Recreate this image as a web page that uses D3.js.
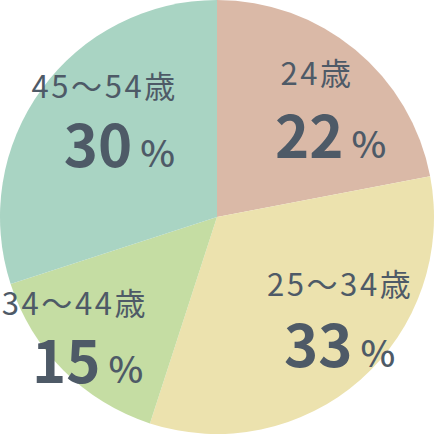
<!DOCTYPE html>
<html><head><meta charset="utf-8">
<script src="https://cdn.jsdelivr.net/npm/d3@7"></script>
<style>html,body{margin:0;padding:0;background:#fff;}svg{display:block;}</style>
</head><body>
<svg id="c" width="434" height="434"></svg>
<script>
const categories = ["24歳", "25～34歳", "34～44歳", "45～54歳"];
const values = [22, 33, 15, 30];
const colors = ["#dab9a7", "#ece2ae", "#c5dda3", "#a9d4c3"];
// layout offsets relative to slice centroid (label centre, number-line left)
const labelOffsets = [
  {lx: 17, ly: -32, nx: -25, ny: 41},
  {lx: 37, ly: -19, nx: -19, ny: 52},
  {lx: -50, ly: 6, nx: -93, ny: 74},
  {lx: -7, ly: -42, nx: -48, ny: 27}
];

const W = 434, H = 434, cx = 217, cy = 217, R = 217;
const svg = d3.select("#c");
const g = svg.append("g").attr("transform", `translate(${cx},${cy})`);
const pie = d3.pie().sort(null).value(d => d);
const arcs = pie(values);
const arc = d3.arc().innerRadius(0).outerRadius(R);
const labelArc = d3.arc().innerRadius(R * 0.6).outerRadius(R * 0.6);

g.selectAll("path").data(arcs).join("path")
  .attr("d", arc).attr("fill", (d, i) => colors[i]);

const txt = "#4e5a67";
const font = "'Noto Sans CJK JP', 'Noto Sans', sans-serif";
arcs.forEach((d, i) => {
  const [x, y] = labelArc.centroid(d);
  const o = labelOffsets[i];
  const t = g.append("text")
    .attr("font-family", font).attr("fill", txt);
  t.append("tspan")
    .attr("x", x + o.lx).attr("y", y + o.ly)
    .attr("text-anchor", "middle")
    .attr("font-size", 31).attr("font-weight", 400)
    .attr("letter-spacing", 2.6)
    .text(categories[i]);
  t.append("tspan")
    .attr("x", x + o.nx).attr("y", y + o.ny)
    .attr("text-anchor", "start")
    .attr("font-size", 58).attr("font-weight", 700).text(values[i]);
  t.append("tspan").attr("dx", 8).attr("font-size", 37).attr("font-weight", 500).text("%");
});
</script>
</body></html>
